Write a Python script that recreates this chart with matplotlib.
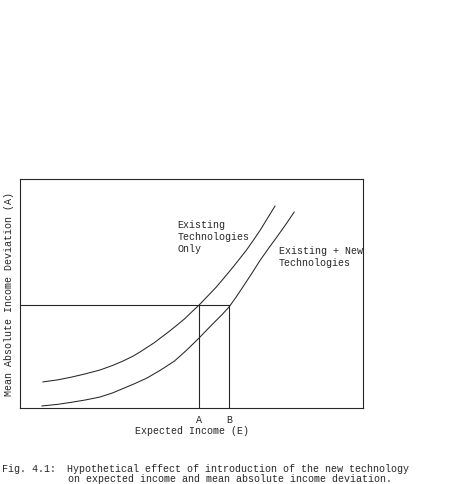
import matplotlib
matplotlib.use("Agg")
import matplotlib.pyplot as plt

# ── data (arbitrary 0-100 units) ─────────────────────────────────────────────
existing_x = [6.7, 11.0, 15.0, 19.0, 23.3, 27.0, 30.0, 33.0, 35.0, 39.0, 42.9,
              45.5, 48.0, 50.0, 52.2, 54.5, 57.0, 59.5, 62.1, 64.0, 66.0, 68.0,
              70.0, 72.0, 74.3]
existing_y = [11.4, 12.3, 13.5, 14.9, 16.6, 18.6, 20.5, 22.7, 24.5, 28.4, 32.8,
              35.9, 39.0, 41.9, 45.0, 48.6, 52.5, 56.9, 61.6, 65.2, 69.0, 73.3,
              77.7, 82.6, 88.2]

combined_x = [6.4, 11.0, 15.0, 19.0, 23.3, 27.0, 30.0, 33.5, 37.0, 41.0, 45.0,
              48.5, 52.2, 54.5, 57.0, 59.0, 60.9, 63.0, 65.0, 67.5, 70.0, 72.5,
              75.0, 77.5, 79.9]
combined_y = [0.9, 1.6, 2.5, 3.5, 4.8, 6.6, 8.5, 10.7, 13.1, 16.6, 20.5, 25.2,
              30.6, 34.2, 38.0, 41.0, 44.1, 48.5, 53.0, 58.7, 64.6, 69.9, 75.0,
              80.3, 85.6]

level_a = 45.0          # common mean absolute deviation
point_a = 52.2          # expected income, existing only
point_b = 60.9          # expected income, existing + new

tick_labels = ["A", "B"]

INK = "#262626"
FONT = ["Liberation Mono", "DejaVu Sans Mono"]
plt.rcParams["font.family"] = FONT
plt.rcParams["font.size"] = 7.2

fig = plt.figure(figsize=(4.51, 4.84), dpi=100)
ax = fig.add_axes([0.0443, 0.157, 0.761, 0.473])

ax.plot(existing_x, existing_y, color=INK, lw=0.75)
ax.plot(combined_x, combined_y, color=INK, lw=0.75)

# guide lines: same deviation, two incomes
ax.plot([0, point_b], [level_a, level_a], color=INK, lw=0.8)
ax.plot([point_a, point_a], [0, level_a], color=INK, lw=0.8)
ax.plot([point_b, point_b], [0, level_a], color=INK, lw=0.8)

ax.set_xlim(0, 100)
ax.set_ylim(0, 100)
for sp in ax.spines.values():
    sp.set_color(INK)
    sp.set_linewidth(0.8)

ax.set_xticks([point_a, point_b])
ax.set_xticklabels(tick_labels, color=INK)
ax.tick_params(axis="x", length=0, pad=5)
ax.set_yticks([])

ax.set_xlabel("Expected Income (E)", color=INK, labelpad=1)
ax.set_ylabel("Mean Absolute Income Deviation (A)", color=INK, labelpad=4)

ax.text(45.8, 82.1, "Existing\nTechnologies\nOnly", ha="left", va="top",
        color=INK, linespacing=1.25)
ax.text(75.5, 70.7, "Existing + New\nTechnologies", ha="left", va="top",
        color=INK, linespacing=1.25)

# caption
fig.text(2 / 451, 1 - 469 / 484, "Fig. 4.1:", ha="left", va="center", color=INK)
fig.text(67 / 451, 1 - 469 / 484,
         "Hypothetical effect of introduction of the new technology",
         ha="left", va="center", color=INK)
fig.text(68 / 451, 1 - 478.5 / 484,
         "on expected income and mean absolute income deviation.",
         ha="left", va="center", color=INK)

fig.savefig("out.png", dpi=100, facecolor="white")
